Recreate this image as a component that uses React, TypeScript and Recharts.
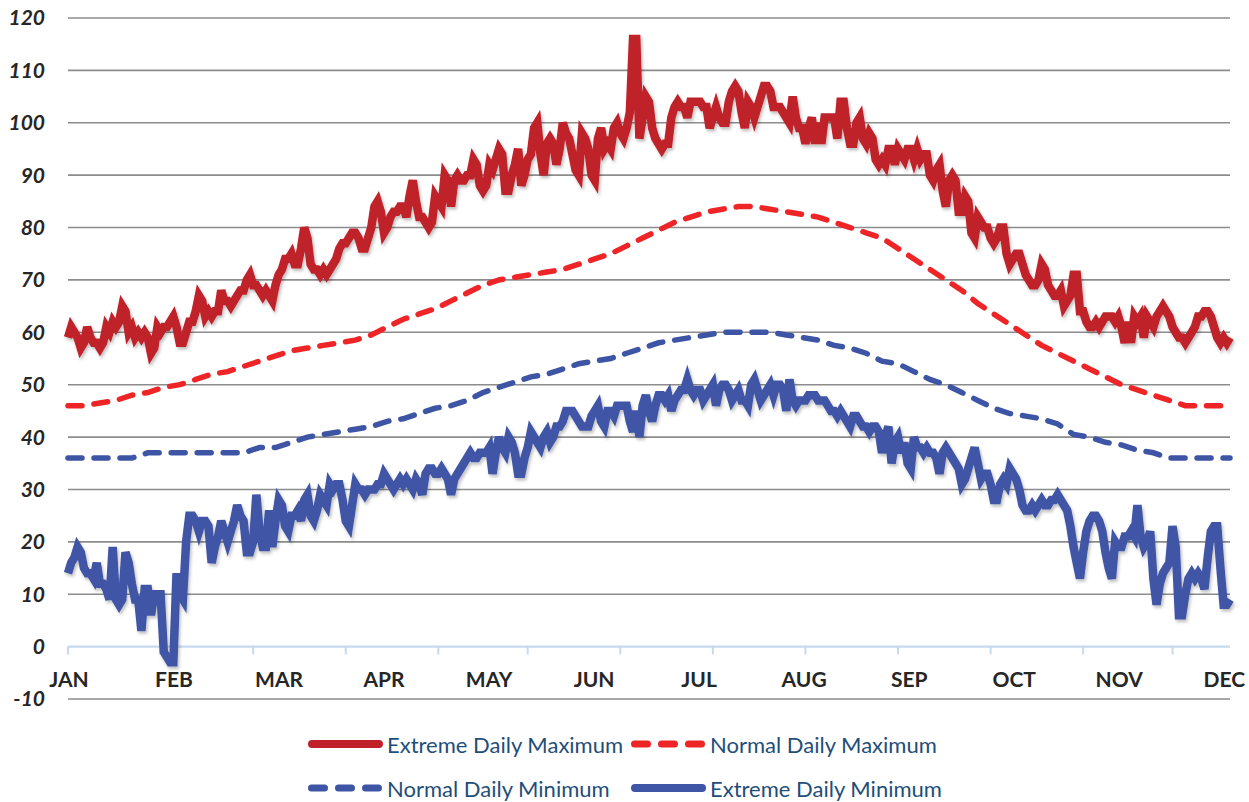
import React from 'react';
import { LineChart, Line, XAxis, YAxis, CartesianGrid, ReferenceLine, Legend } from 'recharts';

const MONTHS = ['JAN', 'FEB', 'MAR', 'APR', 'MAY', 'JUN', 'JUL', 'AUG', 'SEP', 'OCT', 'NOV', 'DEC'];
const LABEL_DAYS = [1.3, 34.2, 67.1, 100, 132.9, 165.8, 198.7, 231.6, 264.5, 297.4, 330.3, 363.2];
const TICK_DAYS = [1, 30, 59, 88, 117, 145, 174, 203, 232, 261, 290, 319, 347];
const Y_TICKS = [-10, 0, 10, 20, 30, 40, 50, 60, 70, 80, 90, 100, 110, 120];
const GRID_VALUES = [-10, 10, 20, 30, 40, 50, 60, 70, 80, 90, 100, 110, 120];

const EXTREME_MAX = [
  59, 61, 60, 59, 57, 58, 61, 59, 58, 58,
  57, 58, 61, 60, 62, 61, 62, 65, 64, 60,
  61, 59, 60, 59, 60, 59, 56, 57, 61, 60,
  61, 61, 62, 63, 61, 58, 58, 60, 62, 62,
  64, 67, 66, 63, 64, 63, 64, 64, 68, 66,
  66, 65, 66, 67, 68, 68, 70, 71, 69, 69,
  68, 67, 68, 67, 66, 69, 71, 72, 74, 74,
  75, 73, 73, 76, 80, 78, 73, 72, 72, 71,
  72, 71, 72, 73, 74, 76, 77, 77, 78, 79,
  79, 78, 76, 76, 78, 80, 84, 85, 83, 79,
  80, 82, 83, 83, 84, 84, 82, 86, 89, 85,
  82, 82, 81, 80, 81, 86, 85, 84, 90, 89,
  84, 89, 90, 89, 89, 90, 90, 93, 92, 88,
  87, 88, 92, 91, 93, 95, 94, 87, 87, 90,
  92, 95, 88, 90, 93, 94, 99, 100, 94, 90,
  96, 97, 96, 92, 95, 100, 98, 97, 94, 91,
  90, 98, 97, 95, 90, 89, 97, 99, 95, 96,
  95, 99, 100, 98, 97, 99, 102, 116, 116, 97,
  101, 105, 104, 99, 97, 96, 95, 96, 96, 101,
  103, 104, 103, 103, 101, 104, 104, 104, 104, 103,
  103, 99, 101, 103, 101, 100, 100, 104, 106, 107,
  106, 102, 99, 104, 103, 101, 103, 105, 107, 107,
  106, 103, 103, 103, 102, 101, 100, 105, 101, 99,
  99, 96, 99, 101, 96, 100, 96, 101, 101, 101,
  101, 97, 104, 104, 99, 96, 96, 100, 101, 97,
  96, 98, 97, 93, 92, 93, 92, 95, 95, 92,
  95, 94, 93, 95, 95, 93, 95, 93, 94, 94,
  90, 89, 91, 92, 87, 84, 89, 90, 89, 83,
  83, 86, 85, 79, 78, 82, 81, 80, 80, 78,
  77, 78, 80, 80, 75, 73, 74, 75, 75, 73,
  71, 70, 69, 69, 70, 73, 72, 69, 68, 67,
  67, 68, 65, 66, 67, 71, 71, 64, 64, 62,
  61, 61, 62, 61, 62, 63, 63, 63, 62, 63,
  61, 58, 62, 58, 63, 62, 63, 59, 63, 62,
  61, 63, 64, 65, 64, 63, 61, 60, 59, 59,
  58, 59, 60, 61, 63, 63, 64, 64, 63, 61,
  59, 58, 59, 58, 59,
];

const EXTREME_MIN = [
  14, 16, 17, 19, 18, 15, 14, 14, 13, 16,
  12, 12, 11, 9, 19, 9, 8, 9, 18, 16,
  12, 9, 9, 3, 11, 11, 6, 10, 10, 10,
  -1, -2, -3, -3, 14, 10, 9, 20, 25, 25,
  24, 22, 24, 24, 23, 16, 19, 21, 24, 22,
  20, 22, 24, 27, 25, 24, 18, 18, 20, 29,
  22, 19, 19, 26, 19, 24, 28, 27, 23, 22,
  25, 25, 26, 24, 28, 29, 25, 24, 26, 29,
  28, 27, 31, 30, 31, 31, 28, 24, 23, 27,
  31, 30, 30, 29, 30, 30, 30, 31, 31, 33,
  32, 31, 30, 31, 32, 31, 32, 31, 30, 32,
  31, 29, 33, 34, 34, 33, 33, 34, 33, 32,
  29, 32, 33, 34, 35, 36, 37, 36, 36, 37,
  37, 37, 38, 33, 37, 40, 38, 37, 40, 39,
  37, 33, 33, 36, 38, 41, 40, 39, 38, 40,
  41, 39, 40, 42, 42, 43, 45, 45, 45, 44,
  43, 42, 42, 42, 44, 45, 46, 43, 42, 45,
  45, 44, 46, 46, 46, 46, 43, 41, 45, 40,
  46, 48, 45, 43, 46, 48, 48, 47, 48, 45,
  47, 48, 49, 49, 51, 49, 48, 49, 49, 47,
  48, 49, 50, 46, 49, 50, 50, 49, 47, 48,
  49, 47, 47, 46, 50, 51, 49, 47, 48, 49,
  50, 48, 50, 50, 49, 45, 51, 47, 46, 47,
  47, 47, 48, 48, 48, 47, 47, 47, 46, 45,
  45, 44, 45, 44, 43, 42, 44, 44, 43, 42,
  42, 41, 42, 42, 41, 37, 40, 42, 35, 39,
  40, 37, 39, 35, 34, 40, 38, 38, 37, 38,
  37, 37, 36, 33, 37, 38, 37, 36, 35, 34,
  31, 32, 34, 36, 38, 35, 32, 33, 33, 31,
  28, 28, 31, 32, 31, 34, 33, 32, 30, 27,
  26, 26, 27, 26, 27, 28, 27, 27, 28, 28,
  29, 28, 27, 26, 23, 19, 16, 13, 18, 22,
  24, 25, 25, 24, 22, 18, 15, 13, 20, 19,
  19, 21, 21, 22, 21, 27, 21, 19, 20, 22,
  13, 8, 12, 14, 15, 16, 23, 19, 6, 6,
  10, 13, 14, 13, 14, 13, 11, 17, 22, 23,
  23, 15, 8, 8, 9,
];

const NORMAL_DAYS = [
  1, 6, 11, 16, 21, 26, 31, 36, 41, 46,
  51, 56, 61, 66, 71, 76, 81, 86, 91, 96,
  101, 106, 111, 116, 121, 126, 131, 136, 141, 146,
  151, 156, 161, 166, 171, 176, 181, 186, 191, 196,
  201, 206, 211, 216, 221, 226, 231, 236, 241, 246,
  251, 256, 261, 266, 271, 276, 281, 286, 291, 296,
  301, 306, 311, 316, 321, 326, 331, 336, 341, 346,
  351, 356, 361, 365,
];

const NORMAL_MAX = [
  46, 46, 46.5, 47, 48, 48.5, 49.5, 50, 51, 52,
  52.5, 53.5, 54.5, 55.5, 56.5, 57, 57.5, 58, 58.5, 59.5,
  61, 62.5, 63.5, 64.5, 66, 67.5, 69, 70, 70.5, 71,
  71.5, 72, 73, 74, 75, 76.5, 78, 79.5, 81, 82,
  83, 83.5, 84, 84, 83.5, 83, 82.5, 82, 81, 80,
  79, 78, 76, 74, 72, 70, 68, 65.5, 63.5, 61.5,
  59.5, 57.5, 56, 54.5, 53, 51.5, 50, 49, 48, 47,
  46, 46, 46, 46,
];

const NORMAL_MIN = [
  36, 36, 36, 36, 36, 37, 37, 37, 37, 37,
  37, 37, 38, 38, 39, 40, 40.5, 41, 41.5, 42,
  43, 43.5, 44.5, 45.5, 46, 47, 48.5, 49.5, 50.5, 51.5,
  52, 53, 54, 54.5, 55, 56, 57, 58, 58.5, 59,
  59.5, 60, 60, 60, 60, 59.5, 59, 58.5, 57.5, 57,
  56, 54.5, 54, 52.5, 51, 50, 48.5, 47, 45.5, 44.5,
  44, 43.5, 42.5, 40.5, 40, 39, 38.5, 37.5, 37, 36,
  36, 36, 36, 36,
];

const SERIES = [
  { key: 'emax', label: 'Extreme Daily Maximum', color: '#C0202A', dashed: false },
  { key: 'nmax', label: 'Normal Daily Maximum', color: '#EE2427', dashed: true },
  { key: 'nmin', label: 'Normal Daily Minimum', color: '#3D55A4', dashed: true },
  { key: 'emin', label: 'Extreme Daily Minimum', color: '#3F55A6', dashed: false },
];

type Row = { day: number; emax: number; emin: number; nmax: number | null; nmin: number | null };

const DATA: Row[] = EXTREME_MAX.map((v, i) => ({
  day: i + 1,
  emax: v,
  emin: EXTREME_MIN[i],
  nmax: null,
  nmin: null,
}));
NORMAL_DAYS.forEach((d, j) => {
  DATA[d - 1].nmax = NORMAL_MAX[j];
  DATA[d - 1].nmin = NORMAL_MIN[j];
});

const TEXT_DARK = '#262626';
const LEGEND_TEXT = '#1F4E79';

const XTick = (props: any) => {
  const { x, y, payload, index } = props;
  let i = LABEL_DAYS.indexOf(payload.value);
  if (i < 0) i = index;
  return (
    <text
      x={x}
      y={y - 21}
      textAnchor="middle"
      dominantBaseline="central"
      fontFamily="Lato, 'Open Sans', sans-serif"
      fontWeight={700}
      fontSize={21}
      fill={TEXT_DARK}
    >
      {MONTHS[i]}
    </text>
  );
};

const LegendContent = () => {
  const cols = [308, 631];
  const rows = [22, 66];
  const layout = [
    { s: SERIES[0], c: 0, r: 0 },
    { s: SERIES[1], c: 1, r: 0 },
    { s: SERIES[2], c: 0, r: 1 },
    { s: SERIES[3], c: 1, r: 1 },
  ];
  return (
    <svg width={1249} height={80} style={{ display: 'block' }}>
      {layout.map(({ s, c, r }) => {
        const x0 = cols[c];
        const y = rows[r];
        return (
          <g key={s.key}>
            {s.dashed ? (
              <line
                x1={x0 + 3.5}
                x2={x0 + 70.5}
                y1={y}
                y2={y}
                stroke={s.color}
                strokeWidth={7}
                strokeLinecap="round"
                strokeDasharray="13 14"
              />
            ) : (
              <line
                x1={x0 + 4}
                x2={x0 + 71}
                y1={y}
                y2={y}
                stroke={s.color}
                strokeWidth={8}
                strokeLinecap="round"
              />
            )}
            <text
              x={x0 + 79}
              y={y}
              dominantBaseline="central"
              fontFamily="Lato, 'Open Sans', sans-serif"
              fontSize={22}
              fill={LEGEND_TEXT}
            >
              {s.label}
            </text>
          </g>
        );
      })}
    </svg>
  );
};

export default function App() {
  return (
    <div style={{ position: 'absolute', left: 0, top: 0, width: 1249, height: 802, background: '#fff' }}>
      <LineChart
        width={1249}
        height={802}
        data={DATA}
        margin={{ top: 18, right: 19, bottom: 0, left: 0 }}
      >
        <defs>
          <filter id="lineShadow" x="-5%" y="-5%" width="110%" height="120%">
            <feDropShadow dx="1.5" dy="2.5" stdDeviation="1.5" floodColor="#000" floodOpacity="0.25" />
          </filter>
        </defs>
        <CartesianGrid
          vertical={false}
          stroke="#8c8c8c"
          strokeWidth={1.6}
          horizontalValues={GRID_VALUES}
        />
        <XAxis
          dataKey="day"
          type="number"
          domain={[1, 365]}
          ticks={LABEL_DAYS}
          interval={0}
          tick={<XTick />}
          tickLine={false}
          axisLine={false}
          tickSize={0}
          tickMargin={0}
          height={23}
          allowDecimals
        />
        <YAxis
          type="number"
          domain={[-10, 120]}
          ticks={Y_TICKS}
          interval={0}
          width={68}
          tickLine={false}
          axisLine={false}
          tickSize={0}
          tickMargin={23}
          tick={{
            fontFamily: "Lato, 'Open Sans', sans-serif",
            fontSize: 21,
            fontWeight: 700,
            fontStyle: 'italic',
            fill: TEXT_DARK,
          }}
        />
        <ReferenceLine y={0} stroke="#C5D9EF" strokeWidth={2.2} />
        {TICK_DAYS.map((d) => (
          <ReferenceLine
            key={'t' + d}
            segment={[
              { x: d, y: 0 },
              { x: d, y: -1.5 },
            ]}
            stroke="#C5D9EF"
            strokeWidth={2}
          />
        ))}
        <Line
          dataKey="nmax"
          name={SERIES[1].label}
          type="linear"
          stroke={SERIES[1].color}
          strokeWidth={5.5}
          strokeDasharray="14 12"
          strokeLinecap="round"
          dot={false}
          activeDot={false}
          connectNulls
          isAnimationActive={false}
        />
        <Line
          dataKey="nmin"
          name={SERIES[2].label}
          type="linear"
          stroke={SERIES[2].color}
          strokeWidth={5.5}
          strokeDasharray="14 12"
          strokeLinecap="round"
          dot={false}
          activeDot={false}
          connectNulls
          isAnimationActive={false}
        />
        <Line
          dataKey="emax"
          name={SERIES[0].label}
          type="linear"
          stroke={SERIES[0].color}
          strokeWidth={8.5}
          filter="url(#lineShadow)"
          dot={false}
          activeDot={false}
          isAnimationActive={false}
        />
        <Line
          dataKey="emin"
          name={SERIES[3].label}
          type="linear"
          stroke={SERIES[3].color}
          strokeWidth={8.5}
          filter="url(#lineShadow)"
          dot={false}
          activeDot={false}
          isAnimationActive={false}
        />
        <Legend
          verticalAlign="bottom"
          align="left"
          content={<LegendContent />}
          wrapperStyle={{ left: 0, width: 1249, height: 80 }}
        />
      </LineChart>
    </div>
  );
}
